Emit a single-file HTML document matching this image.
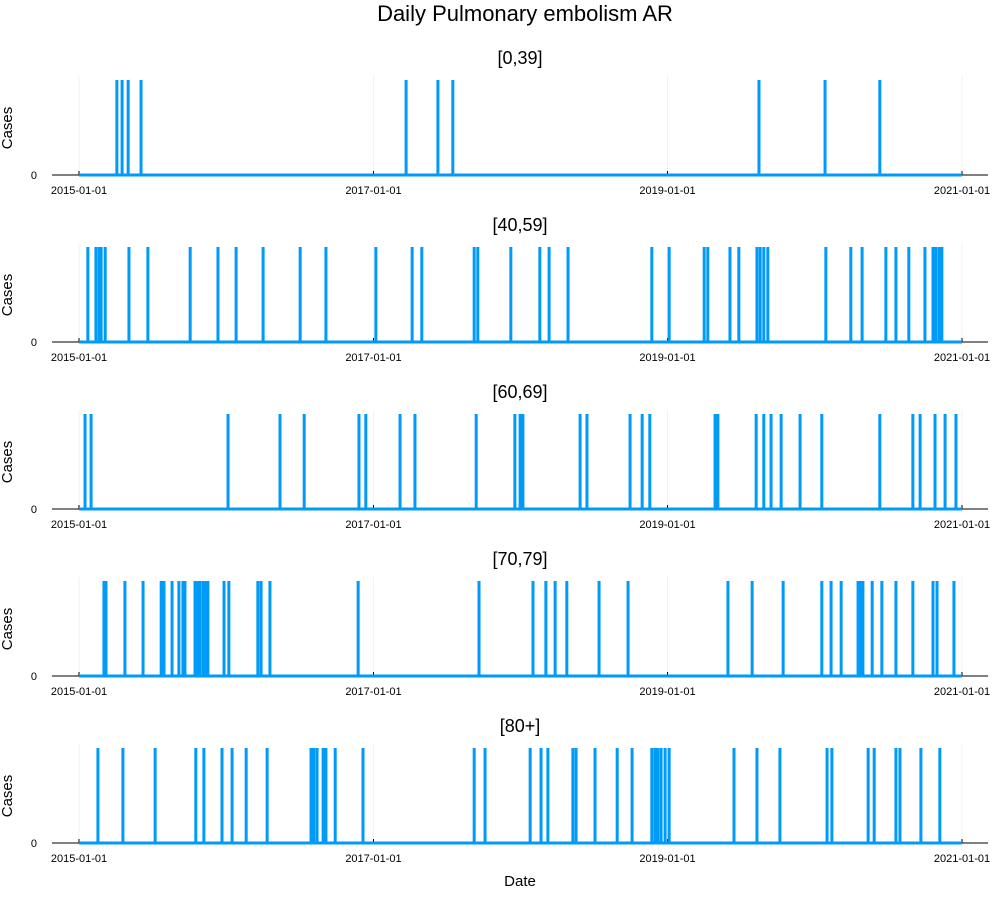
<!DOCTYPE html>
<html><head><meta charset="utf-8"><style>
body{margin:0;background:#fff;}
svg text{font-family:"Liberation Sans",sans-serif;fill:#000;}
</style></head><body>
<svg id="chart" width="1000" height="900" xmlns="http://www.w3.org/2000/svg">
<text x="525" y="21" font-size="22" text-anchor="middle">Daily Pulmonary embolism AR</text>
<text x="520" y="886" font-size="15" text-anchor="middle">Date</text>
</svg>
<script>
// day offsets from 2015-01-01 of days with a case (value 1)
const panelTitles = ["[0,39]","[40,59]","[60,69]","[70,79]","[80+]"];
const tickLabels = ["2015-01-01","2017-01-01","2019-01-01","2021-01-01"];
const tickDays = [0,731,1461,2192];
const days0_39 = [94,107,122,154,812,891,928,1688,1852,1988];
const days40_59 = [22,42,50,55,65,124,171,276,345,390,457,549,613,737,827,851,981,990,1072,1144,1167,1214,1422,1465,1552,1561,1616,1638,1683,1691,1700,1710,1854,1916,1944,2003,2028,2060,2100,2120,2127,2135,2142];
const days60_69 = [15,30,370,499,559,695,712,797,834,986,1082,1095,1102,1244,1261,1368,1398,1417,1579,1586,1681,1700,1718,1743,1790,1844,1988,2070,2088,2125,2150,2177];
const days70_79 = [62,67,114,159,204,211,231,248,258,263,288,295,300,308,315,320,360,372,444,452,474,693,993,1127,1159,1182,1211,1291,1363,1611,1671,1748,1844,1867,1892,1934,1941,1946,1969,1993,2028,2070,2120,2130,2172];
const days80 = [47,109,189,290,310,355,380,415,467,576,583,591,606,613,636,705,981,1008,1120,1147,1164,1226,1234,1281,1336,1373,1422,1430,1437,1445,1455,1465,1626,1683,1740,1857,1869,1959,1974,2028,2038,2090,2137];
const caseValue = 1;
const series = [days0_39,days40_59,days60_69,days70_79,days80];
const totalDays = 2192;

const svg = document.getElementById('chart');
const NS = 'http://www.w3.org/2000/svg';
function mk(tag, attrs){const e=document.createElementNS(NS,tag);for(const k in attrs)e.setAttribute(k,attrs[k]);svg.appendChild(e);return e;}
const x0=79, x1=962;
function xs(d){return x0+(x1-x0)*d/totalDays;}

series.forEach((days,i)=>{
  const base=175+167*i, top=80+167*i;
  function ys(v){return base-(base-top)*v;}
  const t=mk('text',{x:520,y:64+167*i,'font-size':18,'text-anchor':'middle'});
  
  
  t.textContent=panelTitles[i];
  const yl=mk('text',{x:12,y:128+167*i,'font-size':15,'text-anchor':'middle',transform:'rotate(-90 12 '+(128+167*i)+')'});
  
  
  yl.textContent='Cases';
  tickDays.forEach((d,j)=>{
    const g=mk('line',{x1:xs(d),x2:xs(d),y1:top-4,y2:base,stroke:'#000','stroke-opacity':0.1,'stroke-width':0.5});
    
    
    const tk=mk('line',{x1:xs(d),x2:xs(d),y1:base,y2:base-4,stroke:'#000','stroke-width':1});
    
    
    const tl=mk('text',{x:xs(d),y:base+19,'font-size':11,'text-anchor':'middle'});
    
    
    tl.textContent=tickLabels[j];
  });
  const z=mk('text',{x:37,y:base+4,'font-size':11,'text-anchor':'end'});
  
  
  z.textContent='0';
  const zt=mk('line',{x1:52,x2:56,y1:base,y2:base,stroke:'#000'});
  
  
  const ax=mk('line',{x1:52,x2:988,y1:base,y2:base,stroke:'#000','stroke-width':1});
  
  
  const bl=mk('line',{x1:x0,x2:x1,y1:ys(0),y2:ys(0),stroke:'#009af9','stroke-width':3});
  
  
  days.forEach(d=>{
    const s=mk('line',{x1:xs(d),x2:xs(d),y1:ys(0),y2:ys(caseValue),stroke:'#009af9','stroke-width':3});
    
    
  });
});
</script>
</body></html>
